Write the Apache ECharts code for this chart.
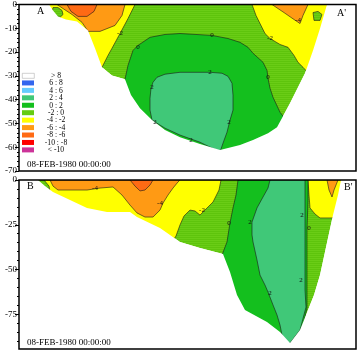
<!DOCTYPE html>
<html><head><meta charset="utf-8">
<script src="https://cdn.jsdelivr.net/npm/echarts@6/dist/echarts.min.js"></script>
<style>html,body{margin:0;padding:0;background:#fff}#c{width:361px;height:350px}</style>
</head><body><div id="c"></div>
<script>
// ---- legend classes ----
const classLabels = ['> 8','6 : 8','4 : 6','2 : 4','0 : 2','-2 : 0','-4 : -2','-6 : -4','-8 : -6','-10 : -8','< -10'];
const classColors = ['#ffffff','#3366ee','#66ccff','#40c878','#14bf1e','#66cc11','#ffff00','#ff9a14','#ff6a14','#ff0000','#cc3399'];
const dateLabel = '08-FEB-1980 00:00:00';

// ---- axes ----
const distMax = 337;              // section length (distance units)
const depthTicksA = [0,-10,-20,-30,-40,-50,-60,-70];
const depthMinA = -70;
const depthMinB = -94.4;
const depthTicksB = [0,-25,-50,-75];
const depthMinorB = [-5,-10,-15,-20,-30,-35,-40,-45,-55,-60,-65,-70,-80,-85,-90];

// ---- section A (distance, depth) ----
const seabedA = [[30,0],[34,-2.5],[39,-5.0],[47,-6.3],[58,-7.1],[69,-10.9],[76,-18.4],[83,-26.4],[93,-29.8],[106,-31.4],[112,-38.1],[121,-43.6],[133,-48.6],[146,-52.8],[161,-55.8],[181,-58.7],[201,-61.2],[221,-59.1],[234,-57.0],[249,-54.1],[258,-51.6],[271,-41.5],[286,-28.9],[294,-19.3],[301,-10.1],[308,0]];
const yellowLeftA = [[21,0],[116,0],[109,-5.9],[101,-12.2],[93,-18.4],[89,-21.4],[83,-26.4],[76,-29.8],[21,-29.8]];
const orangeLeftA = [[38,0],[106,0],[103,-4.6],[96,-8.8],[81,-11.3],[69,-11.3],[63,-7.5],[53,-4.2],[44,-1.7]];
const darkOrangeA = [[48,0],[78,0],[75,-2.9],[68,-5.0],[59,-5.0],[52,-2.9]];
const patchLeftA = [[34,-1.3],[39,-1.3],[43,-2.5],[44,-4.2],[41,-5.4],[36,-5.0],[33,-3.4]];
const yellowRightA = [[233,0],[237,-4.6],[241,-8.0],[246,-12.2],[251,-14.3],[261,-16.8],[269,-18.0],[275,-21.4],[279,-24.3],[284,-26.4],[296,-31.9],[321,-31.9],[321,0]];
const orangeRightA = [[253,0],[265,-3.4],[275,-6.3],[281,-8.0],[284,-4.6],[289,0]];
const patchRightA = [[294,-3.4],[299,-2.9],[303,-4.2],[301,-6.7],[295,-6.7]];
const greenA = [[101,-34.0],[106,-31.4],[109,-25.6],[114,-19.3],[119,-17.2],[131,-13.8],[146,-12.6],[161,-12.2],[177,-12.6],[193,-13.0],[209,-14.3],[221,-15.9],[229,-18.0],[234,-20.5],[244,-24.3],[248,-27.7],[249,-31.0],[251,-35.2],[254,-39.0],[261,-45.3],[271,-50.7],[231,-65.4],[121,-65.4],[96,-38.1]];
const midGreenA = [[133,-48.6],[131,-44.4],[131,-39.4],[132,-35.2],[134,-32.7],[138,-30.6],[146,-29.3],[161,-28.5],[176,-28.5],[191,-28.5],[203,-28.9],[209,-30.2],[213,-33.1],[214,-38.1],[214,-44.4],[211,-48.6],[208,-53.7],[204,-58.3],[201,-62.0],[181,-57.9],[161,-54.9],[146,-52.0]];
const contourLabelsA = [[101,-12.2,'-2'],[119,-18.0,'0'],[133,-34.8,'2'],[193,-13.0,'0'],[191,-28.5,'2'],[251,-14.3,'-2'],[279,-6.7,'-4'],[249,-30.6,'0'],[210,-49.5,'2'],[172,-57.0,'2'],[136,-49.5,'2']];

// ---- section B (distance, depth) ----
const seabedB = [[19,0],[26,-3.4],[34,-6.7],[51,-11.2],[68,-15.6],[88,-17.9],[111,-17.9],[118,-20.7],[141,-26.8],[161,-34.6],[181,-38.0],[204,-41.3],[211,-51.4],[218,-64.3],[226,-72.6],[248,-79.3],[261,-84.9],[271,-91.1],[281,-83.8],[289,-72.6],[295,-64.3],[301,-53.1],[309,-32.4],[314,-19.6],[319,-8.4],[322,0]];
const yellowLeftB = [[11,0],[202,0],[200,-5.6],[194,-12.3],[187,-16.2],[181,-19.6],[176,-17.3],[171,-16.8],[165,-20.1],[161,-25.1],[157,-31.3],[151,-36.3],[11,-36.3]];
const orangeB = [[31,0],[161,0],[159,-1.1],[154,-4.5],[149,-8.4],[144,-12.9],[141,-16.8],[134,-20.7],[126,-20.7],[118,-18.4],[111,-14.0],[103,-8.4],[94,-3.9],[81,-4.5],[68,-5.6],[51,-5.6],[39,-5.6],[34,-3.4]];
const darkOrangeB = [[111,0],[134,0],[131,-2.8],[126,-5.6],[121,-6.1],[116,-3.4]];
const patchLeftB = [[11,0],[25,0],[30,-3.4],[31,-6.7],[21,-8.4]];
const yellowRightB = [[289,0],[326,0],[326,-21.2],[301,-21.2],[296,-19.0],[291,-15.6],[290,-8.4]];
const orangeRightB = [[308,0],[319,0],[315,-5.6],[313,-9.5],[310,-5.6]];
const greenB = [[219,0],[289,0],[289,-11.2],[288,-27.9],[288,-44.7],[288,-61.5],[288,-71.5],[281,-89.4],[251,-93.3],[201,-67.0],[203,-41.9],[208,-34.6],[211,-24.0],[214,-15.6],[217,-8.4]];
const midGreenB = [[251,0],[286,0],[286,-11.2],[286,-27.9],[286,-44.7],[286,-61.5],[287,-71.0],[281,-83.8],[271,-91.1],[266,-92.2],[263,-86.6],[261,-81.0],[258,-75.4],[254,-69.8],[249,-62.6],[246,-58.7],[241,-53.1],[238,-44.7],[234,-34.6],[233,-30.7],[233,-23.5],[238,-15.6],[244,-9.5],[249,-4.5]];
const contourLabelsB = [[76,-4.5,'-4'],[141,-12.9,'-4'],[183,-16.8,'-2'],[210,-24.0,'0'],[231,-23.5,'2'],[251,-63.1,'2'],[283,-19.6,'2'],[290,-26.8,'0'],[282,-55.9,'2']];

// ---- build ----
const cls = l => classColors[classLabels.indexOf(l)];
const stripe = document.createElement('canvas');
stripe.width = 4; stripe.height = 2;
(function(){const g=stripe.getContext('2d');g.fillStyle='#6acd16';g.fillRect(0,0,4,1);g.fillStyle='#5ec40c';g.fillRect(0,1,4,1);})();
const ygFill = {image: stripe, repeat: 'repeat'};

function landOf(seabed, ymin){ return [[0,0]].concat(seabed, [[distMax,0],[distMax,ymin],[0,ymin]]); }

function layersA(){ return [
  {pts: seabedA, fill: ygFill, stroke: false},
  {pts: yellowLeftA, fill: cls('-4 : -2'), stroke: true},
  {pts: orangeLeftA, fill: cls('-6 : -4'), stroke: true},
  {pts: darkOrangeA, fill: cls('-8 : -6'), stroke: true},
  {pts: patchLeftA, fill: ygFill, stroke: true},
  {pts: yellowRightA, fill: cls('-4 : -2'), stroke: true},
  {pts: orangeRightA, fill: cls('-6 : -4'), stroke: true},
  {pts: patchRightA, fill: ygFill, stroke: true},
  {pts: greenA, fill: cls('0 : 2'), stroke: true},
  {pts: midGreenA, fill: cls('2 : 4'), stroke: true},
  {pts: landOf(seabedA, depthMinA), fill: '#ffffff', stroke: false}
];}
function layersB(){ return [
  {pts: seabedB, fill: ygFill, stroke: false},
  {pts: yellowLeftB, fill: cls('-4 : -2'), stroke: true},
  {pts: orangeB, fill: cls('-6 : -4'), stroke: true},
  {pts: darkOrangeB, fill: cls('-8 : -6'), stroke: true},
  {pts: patchLeftB, fill: ygFill, stroke: true},
  {pts: yellowRightB, fill: cls('-4 : -2'), stroke: true},
  {pts: orangeRightB, fill: cls('-6 : -4'), stroke: true},
  {pts: greenB, fill: cls('0 : 2'), stroke: true},
  {pts: midGreenB, fill: cls('2 : 4'), stroke: true},
  {pts: landOf(seabedB, depthMinB), fill: '#ffffff', stroke: false}
];}

function regionSeries(idx, layers){
  return {
    type: 'custom', xAxisIndex: idx, yAxisIndex: idx, z: 2, clip: true, silent: true,
    data: layers.map((l,i)=>[l.pts[0][0], l.pts[0][1], i]),
    renderItem: function(params, api){
      const l = layers[params.dataIndex];
      return {type:'polygon', z2: params.dataIndex,
        shape:{points: l.pts.map(p=>api.coord(p))},
        style:{fill: l.fill, stroke: l.stroke ? '#1a1a1a' : null, lineWidth: 0.6}};
    }
  };
}
function labelSeries(idx, labels){
  return {
    type: 'custom', xAxisIndex: idx, yAxisIndex: idx, z: 3, clip: true, silent: true,
    data: labels.map(l=>[l[0], l[1]]),
    renderItem: function(params, api){
      const c = api.coord([api.value(0), api.value(1)]);
      return {type:'text', x: c[0], y: c[1],
        style:{text: labels[params.dataIndex][2], fontSize: 7, fontFamily: 'Liberation Serif', fill:'#111', align:'center', verticalAlign:'middle'}};
    }
  };
}

const tickFont = {fontFamily:'Liberation Serif', fontSize: 9, color:'#000', margin: 2};
const chart = echarts.init(document.getElementById('c'), null, {renderer:'canvas'});
const graphics = [];
classLabels.forEach((t,i)=>{
  graphics.push({type:'rect', left: 22, top: 73 + i*7.44, shape:{width:12, height:5}, style:{fill: classColors[i], stroke: i===0 ? '#b0b0b0' : null, lineWidth: 0.6}, z: 20});
  graphics.push({type:'text', x: 56, y: 75.8 + i*7.44, style:{text: t, fontSize: 7.6, fontFamily:'Liberation Serif', fill:'#000', align:'center', verticalAlign:'middle'}, z: 20});
});
graphics.push({type:'text', left: 27, top: 160.5, style:{text: dateLabel, fontSize: 9, fontFamily:'Liberation Serif', fill:'#000'}, z:20});
graphics.push({type:'text', left: 27, top: 338.5, style:{text: dateLabel, fontSize: 9, fontFamily:'Liberation Serif', fill:'#000'}, z:20});
graphics.push({type:'text', left: 37, top: 6, style:{text: 'A', fontSize: 10, fontFamily:'Liberation Serif', fill:'#000'}, z:20});
graphics.push({type:'text', left: 337, top: 8, style:{text: "A'", fontSize: 10, fontFamily:'Liberation Serif', fill:'#000'}, z:20});
graphics.push({type:'text', left: 27, top: 181, style:{text: 'B', fontSize: 10, fontFamily:'Liberation Serif', fill:'#000'}, z:20});
graphics.push({type:'text', left: 344, top: 182, style:{text: "B'", fontSize: 10, fontFamily:'Liberation Serif', fill:'#000'}, z:20});

chart.setOption({
  animation: false,
  backgroundColor: '#fff',
  grid: [
    {left: 19, right: 5, top: 4, height: 167, show: true, borderColor: '#000', borderWidth: 1.5, backgroundColor: 'transparent', z: 10},
    {left: 19, right: 5, top: 180, height: 169, show: true, borderColor: '#000', borderWidth: 1.5, backgroundColor: 'transparent', z: 10}
  ],
  xAxis: [
    {gridIndex: 0, type: 'value', min: 0, max: distMax, show: false},
    {gridIndex: 1, type: 'value', min: 0, max: distMax, show: false}
  ],
  yAxis: [
    {gridIndex: 0, type: 'value', position: 'left', min: depthMinA, max: depthTicksA[0], interval: 10, z: 10,
      axisLine:{show:false}, splitLine:{show:false},
      axisTick:{show:true, length: 4, lineStyle:{color:'#000'}},
      minorTick:{show:true, splitNumber: 5, length: 2, lineStyle:{color:'#000'}},
      axisLabel: Object.assign({showMinLabel:true, showMaxLabel:true}, tickFont)},
    {gridIndex: 1, type: 'value', position: 'left', min: depthMinB, max: depthTicksB[0], z: 10,
      axisLine:{show:false}, splitLine:{show:false},
      axisTick:{show:true, length: 4, lineStyle:{color:'#000'}, customValues: depthTicksB},
      axisLabel: Object.assign({customValues: depthTicksB}, tickFont)},
    {gridIndex: 1, type: 'value', position: 'left', offset: 0, min: depthMinB, max: 0, z: 10,
      axisLine:{show:false}, splitLine:{show:false},
      axisTick:{show:true, length: 2, lineStyle:{color:'#000'}, customValues: depthMinorB},
      axisLabel:{show:false}}
  ],
  graphic: graphics,
  series: [
    regionSeries(0, layersA()), labelSeries(0, contourLabelsA),
    regionSeries(1, layersB()), labelSeries(1, contourLabelsB)
  ]
});
</script></body></html>
